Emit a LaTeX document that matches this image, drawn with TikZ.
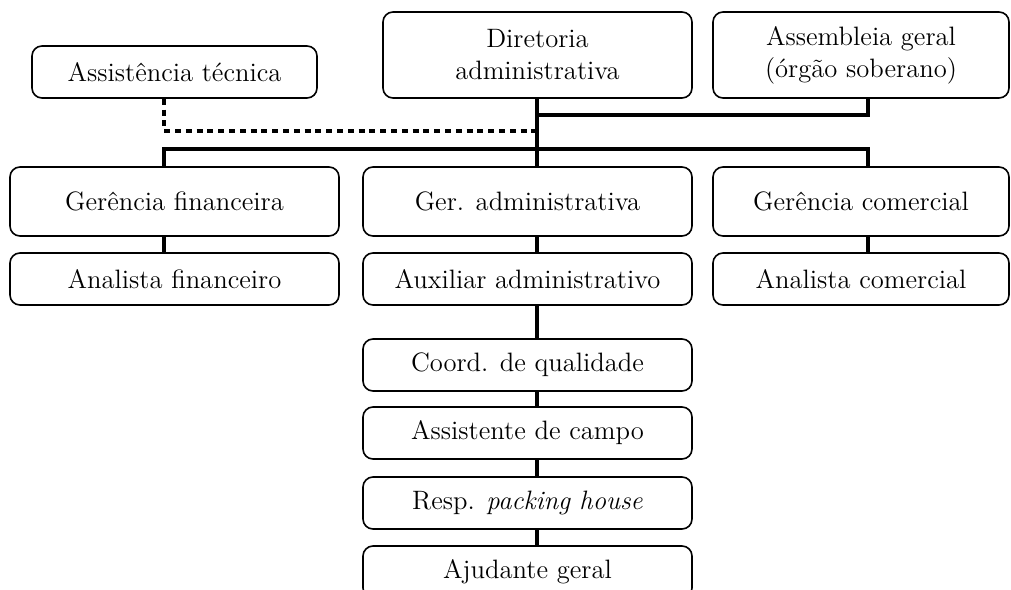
\documentclass[tikz,border=0pt]{standalone}
\tikzset{
    box/.style={draw, line width=0.8pt, rounded corners=5pt, align=center, inner sep=2pt,
        font=\fontsize{13.3}{16}\selectfont},
    wide/.style={minimum width=164.5pt},
    narrow/.style={minimum width=148pt},
    link/.style={line width=2.3pt},
    dotlink/.style={line width=2.3pt, dash pattern=on 3pt off 2.4pt}
}

\begin{document}
\begin{tikzpicture}[x=0.5pt, y=-0.5pt]
    \useasboundingbox (0,0) rectangle (1011,589);

    % top row
    \node[box, minimum width=142.5pt, minimum height=26pt] (assist) at (174.5,72) {Assistência técnica};
    \node[box, minimum width=154.5pt, minimum height=43pt] (dir) at (537.5,55) {Diretoria\\administrativa};
    \node[box, narrow, minimum height=43pt] (assemb) at (861,55) {Assembleia geral\\(órgão soberano)};

    % gerencias
    \node[box, wide, minimum height=34.5pt] (gfin) at (174.5,201.5) {Gerência financeira};
    \node[box, wide, minimum height=34.5pt] (gadm) at (527.5,201.5) {Ger. administrativa};
    \node[box, narrow, minimum height=34.5pt] (gcom) at (861,201.5) {Gerência comercial};

    % analistas
    \node[box, wide, minimum height=26pt] (afin) at (174.5,279) {Analista financeiro};
    \node[box, wide, minimum height=26pt] (aux) at (527.5,279) {Auxiliar administrativo};
    \node[box, narrow, minimum height=26pt] (acom) at (861,279) {Analista comercial};

    % cadeia administrativa
    \node[box, wide, minimum height=26pt] (coord) at (527.5,365) {Coord. de qualidade};
    \node[box, wide, minimum height=26pt] (campo) at (527.5,433) {Assistente de campo};
    \node[box, wide, minimum height=26pt] (resp) at (527.5,503) {Resp. \textit{packing house}};
    \node[box, wide, minimum height=26pt] (ajud) at (527.5,572) {Ajudante geral};

    % colunas das linhas
    \coordinate (colL) at (164,0);
    \coordinate (colM) at (537,0);
    \coordinate (colR) at (868,0);
    \coordinate (busA) at (0,115);
    \coordinate (busD) at (0,131);
    \coordinate (busG) at (0,149);

    \draw [link] (dir.south -| colM)--(gadm.north -| colM);
    \draw [link] (busA -| colM)--(busA -| colR)--(assemb.south -| colR);
    \draw [link] (gfin.north -| colL)--(busG -| colL)--(busG -| colR)--(gcom.north -| colR);
    \draw [dotlink] (assist.south -| colL)--(busD -| colL)--(busD -| colM);

    \draw [link] (gfin.south -| colL)--(afin.north -| colL);
    \draw [link] (gadm.south -| colM)--(aux.north -| colM);
    \draw [link] (gcom.south -| colR)--(acom.north -| colR);

    \draw [link] (aux.south -| colM)--(coord.north -| colM);
    \draw [link] (coord.south -| colM)--(campo.north -| colM);
    \draw [link] (campo.south -| colM)--(resp.north -| colM);
    \draw [link] (resp.south -| colM)--(ajud.north -| colM);

\end{tikzpicture}
\end{document}
